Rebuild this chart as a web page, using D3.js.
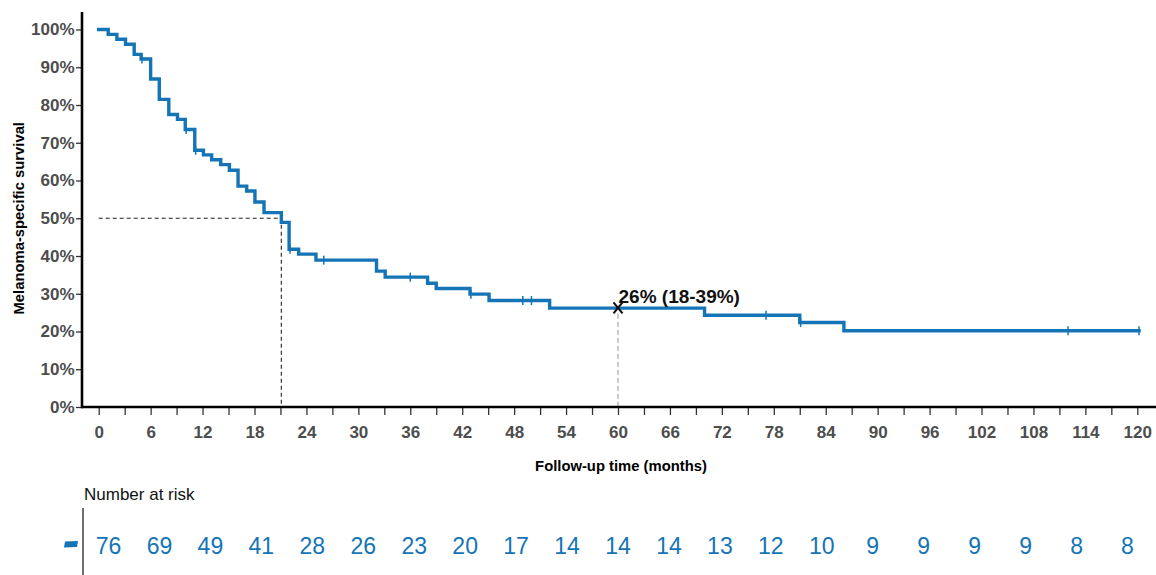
<!DOCTYPE html>
<html>
<head>
<meta charset="utf-8">
<script src="https://cdn.jsdelivr.net/npm/d3@7"></script>
<style>
  html, body { margin: 0; padding: 0; background: #fff; }
  svg { display: block; font-family: Arial, "Liberation Sans", sans-serif; }
</style>
</head>
<body>
<svg id="chart" width="1156" height="575"></svg>
<script>
// Kaplan–Meier step function: event times (months) and survival (%) after each step
const stepTimes = [0, 1.1, 2.1, 3.1, 4.1, 4.9, 6.0, 7.0, 8.1, 9.1, 10.0, 11.1, 12.1, 13.05, 14.1, 15.1, 16.1, 17.1, 18.05, 19.1, 21.1, 22.0, 23.1, 25.1, 32.1, 33.1, 38.0, 39.0, 42.9, 45.1, 52.1, 70.0, 81.0, 86.1];
const stepSurvival = [100, 98.7, 97.4, 96.1, 93.4, 92.2, 86.9, 81.5, 77.5, 76.2, 73.5, 68.0, 66.8, 65.5, 64.2, 62.7, 58.5, 57.2, 54.3, 51.5, 48.9, 41.8, 40.5, 38.9, 36.0, 34.4, 32.8, 31.4, 29.9, 28.2, 26.2, 24.3, 22.4, 20.2];
const followUpEnd = 120.2;

// Censored observations (months)
const censorTimes = [5.0, 10.1, 11.2, 22.1, 26.0, 36.0, 43.0, 49.0, 50.0, 77.1, 81.1, 112.0, 120.2];

// Median survival and 5-year estimate
const medianTime = 21.1;
const landmarkTime = 60;
const landmarkSurvival = 26;
const landmarkLabel = "26% (18-39%)";

// Axis ticks
const xTickValues = d3.range(0, 121, 3);
const yTickValues = d3.range(0, 101, 10);

// Number at risk every 6 months
const riskTimes = d3.range(0, 121, 6);
const riskCounts = [76, 69, 49, 41, 28, 26, 23, 20, 17, 14, 14, 14, 13, 12, 10, 9, 9, 9, 9, 8, 8];

const blue = "#1474b6";
const svg = d3.select("#chart");

const x = d3.scaleLinear().domain([0, 120]).range([98.7, 1137.3]);
const y = d3.scaleLinear().domain([0, 100]).range([407, 29.5]);
const xRisk = d3.scaleLinear().domain([0, 120]).range([108.5, 1127.5]);

// survival value at time t from the step function
function survivalAt(t) {
  let s = stepSurvival[0];
  for (let i = 0; i < stepTimes.length; i++) if (stepTimes[i] <= t) s = stepSurvival[i];
  return s;
}

// Reference lines: median (black dashes) and 60-month landmark (grey dashes)
svg.append("path")
  .attr("d", `M${x(0)},${y(50)}H${x(medianTime)}V${y(0)}`)
  .attr("fill", "none").attr("stroke", "#222").attr("stroke-width", 1.1)
  .attr("stroke-dasharray", "4,3");
svg.append("line")
  .attr("x1", x(landmarkTime)).attr("x2", x(landmarkTime))
  .attr("y1", y(landmarkSurvival) + 5).attr("y2", y(0))
  .attr("stroke", "#bdbdbd").attr("stroke-width", 1.6).attr("stroke-dasharray", "5,3");

// Axes
const xAxis = d3.axisBottom(x)
  .tickValues(xTickValues)
  .tickFormat(d => d % 6 === 0 ? d : "")
  .tickSize(8).tickPadding(11);
const gx = svg.append("g").attr("transform", `translate(0,${y(0)})`).call(xAxis);
gx.select(".domain").remove();
gx.selectAll(".tick line").attr("stroke", "#333").attr("stroke-width", 1.3);
gx.selectAll(".tick text").attr("font-size", 17).attr("font-weight", "bold")
  .attr("fill", "#4d4d4d").attr("font-family", "Arial, 'Liberation Sans', sans-serif");

const yAxis = d3.axisLeft(y)
  .tickValues(yTickValues)
  .tickFormat(d => d + "%")
  .tickSize(6).tickPadding(1.5);
const gy = svg.append("g").attr("transform", "translate(82,0)").call(yAxis);
gy.select(".domain").remove();
gy.selectAll(".tick line").attr("stroke", "#333").attr("stroke-width", 1.3);
gy.selectAll(".tick text").attr("font-size", 17).attr("font-weight", "bold")
  .attr("fill", "#4d4d4d").attr("font-family", "Arial, 'Liberation Sans', sans-serif");

// Axis lines
svg.append("line").attr("x1", 82).attr("x2", 1156).attr("y1", y(0)).attr("y2", y(0))
  .attr("stroke", "#000").attr("stroke-width", 2.6);
svg.append("line").attr("x1", 82).attr("x2", 82).attr("y1", 12).attr("y2", y(0) + 1.3)
  .attr("stroke", "#000").attr("stroke-width", 2.6);

// Axis titles
svg.append("text")
  .attr("transform", `translate(24,${y(50)}) rotate(-90)`)
  .attr("text-anchor", "middle")
  .attr("font-size", 14.8).attr("font-weight", "bold").attr("fill", "#000")
  .text("Melanoma-specific survival");
svg.append("text")
  .attr("x", 621).attr("y", 471)
  .attr("text-anchor", "middle")
  .attr("font-size", 14.8).attr("font-weight", "bold").attr("fill", "#000")
  .text("Follow-up time (months)");

// Survival curve
const curvePoints = stepTimes.map((t, i) => [t, stepSurvival[i]]);
curvePoints.push([followUpEnd, stepSurvival[stepSurvival.length - 1]]);
const line = d3.line().x(d => x(d[0])).y(d => y(d[1])).curve(d3.curveStepAfter);
svg.append("path").datum(curvePoints)
  .attr("d", line)
  .attr("fill", "none").attr("stroke", blue).attr("stroke-width", 3.4)
  .attr("stroke-linejoin", "miter").attr("stroke-linecap", "square");

// Censor marks
svg.append("g").selectAll("line").data(censorTimes).join("line")
  .attr("x1", d => x(d)).attr("x2", d => x(d))
  .attr("y1", d => y(survivalAt(d)) - 4.5).attr("y2", d => y(survivalAt(d)) + 4.5)
  .attr("stroke", blue).attr("stroke-width", 1.5);

// 60-month estimate marker (cross) and label
const mx = x(landmarkTime), my = y(landmarkSurvival) - 1;
svg.append("path")
  .attr("d", `M${mx - 4.5},${my - 5.5}L${mx + 4.5},${my + 5.5}M${mx + 4.5},${my - 5.5}L${mx - 4.5},${my + 5.5}`)
  .attr("stroke", "#111").attr("stroke-width", 2.1).attr("fill", "none");
svg.append("text")
  .attr("x", mx + 0.5).attr("y", 303)
  .attr("font-size", 19).attr("font-weight", "bold").attr("fill", "#111")
  .text(landmarkLabel);

// Number-at-risk table
svg.append("text")
  .attr("x", 84).attr("y", 500)
  .attr("font-size", 17).attr("fill", "#111")
  .text("Number at risk");
svg.append("line").attr("x1", 83).attr("x2", 83).attr("y1", 508).attr("y2", 575)
  .attr("stroke", "#333").attr("stroke-width", 1.4);
svg.append("path")
  .attr("d", "M65,541.5L78,541L77,547L64,547.5Z")
  .attr("fill", blue);
svg.append("g").selectAll("text").data(riskTimes).join("text")
  .attr("x", d => xRisk(d)).attr("y", 554)
  .attr("text-anchor", "middle")
  .attr("font-size", 23).attr("fill", blue)
  .text((d, i) => riskCounts[i]);
</script>
</body>
</html>
